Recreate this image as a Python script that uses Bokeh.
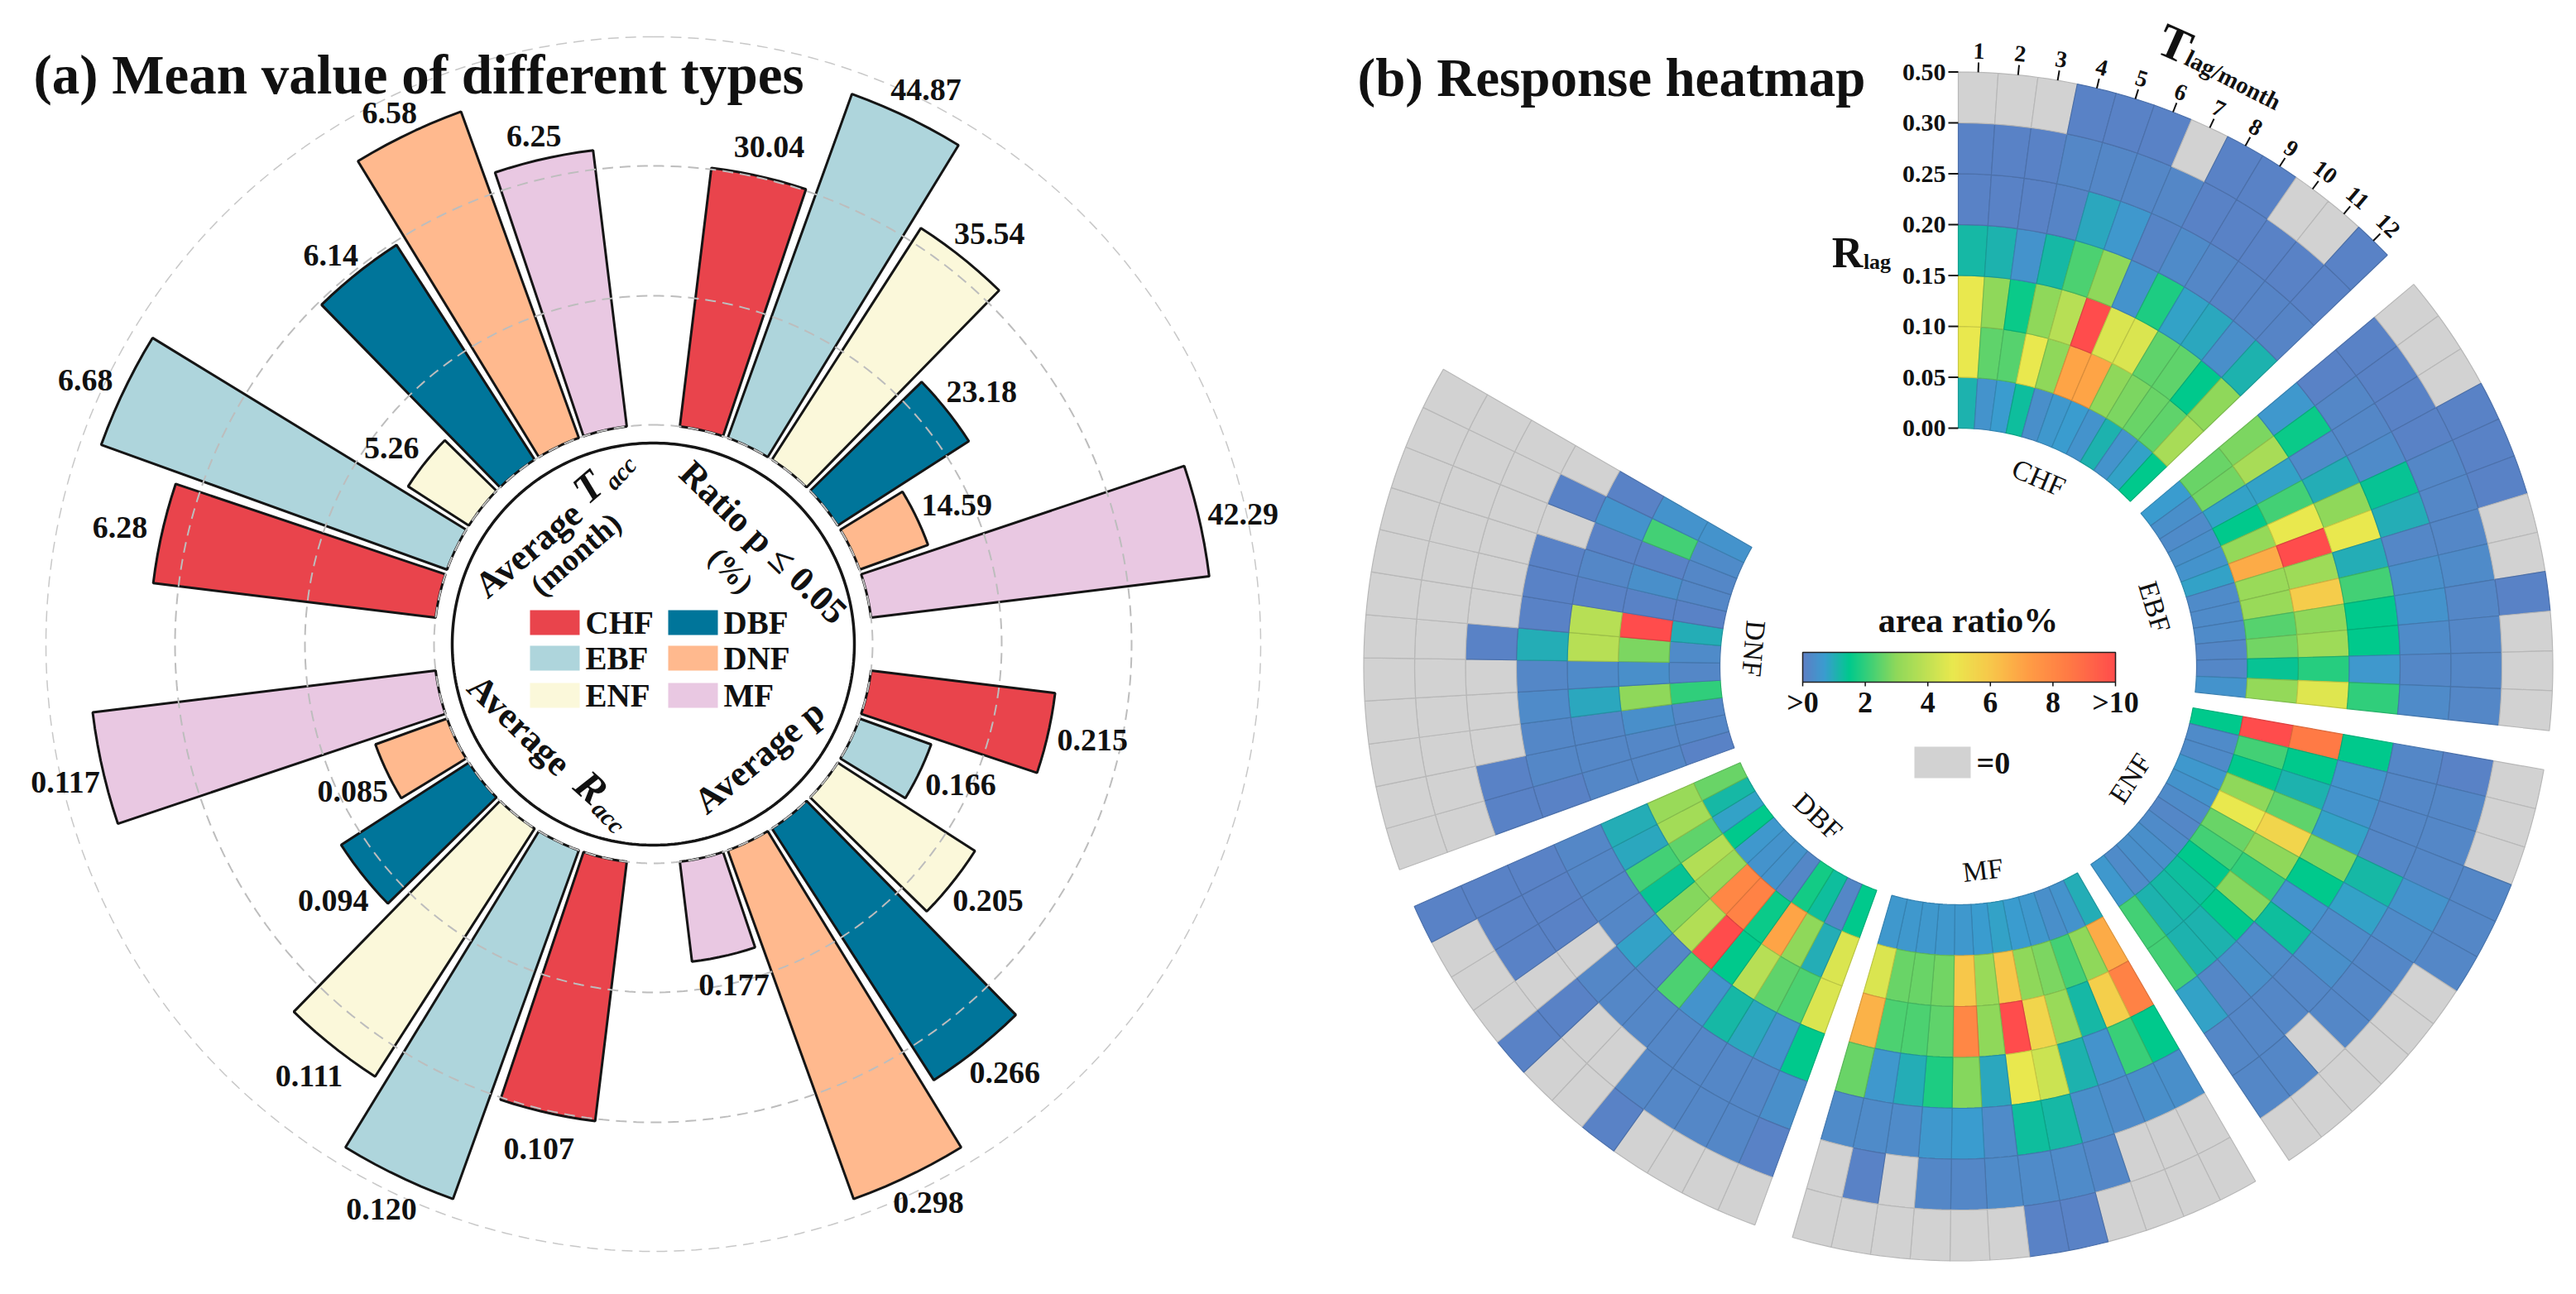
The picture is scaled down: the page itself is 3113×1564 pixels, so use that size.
import numpy as np
from bokeh.plotting import figure
from bokeh.models import Range1d, ColumnDataSource
from bokeh.core.properties import value
from bokeh.embed import file_html
from bokeh.resources import INLINE

# ---------- data: panel (a) ----------
types = ["CHF", "EBF", "ENF", "DBF", "DNF", "MF"]
type_colors = ["#e9444c", "#aed5dc", "#fbf8da", "#00759a", "#ffb98e", "#e9c8e2"]
ratio_labels = ["30.04", "44.87", "35.54", "23.18", "14.59", "42.29"]
ratio_heights = [34.0, 44.87, 35.54, 23.18, 14.59, 42.29]   # first bar is drawn longer than its label
avg_p = [0.215, 0.166, 0.205, 0.266, 0.298, 0.177]
avg_racc = [0.107, 0.120, 0.111, 0.094, 0.085, 0.117]
avg_tacc = [6.28, 6.68, 5.26, 6.14, 6.58, 6.25]

# ---------- data: panel (b), area ratio %; rows inner -> outer, columns Tlag 1..12; 0 = grey ----------
r_ticks = ["0.00", "0.05", "0.10", "0.15", "0.20", "0.25", "0.30", "0.50"]
months = ["1", "2", "3", "4", "5", "6", "7", "8", "9", "10", "11", "12"]
cb_ticks = [">0", "2", "4", "6", "8", ">10"]
chf = [
 [1.1,.5,.7,1.3,.4,.6,.7,.5,1.1,.5,.8,1.5],
 [4.8,2.5,2.4,4.8,3.0,7.0,7.0,3.0,2.8,2.6,2.5,3.5],
 [4.8,3.0,1.6,3.0,3.8,10,4.5,4.5,2.5,2.5,1.5,3.0],
 [1.2,1.1,.5,1.2,2.3,3.0,.5,1.8,.8,.9,.4,1.1],
 [.1,.1,.1,.15,.9,.6,.15,.3,.2,.15,.15,.15],
 [.1,.1,.1,.2,.2,.2,.2,.1,.1,.1,.1,.1],
 [0,0,0,.1,.1,.1,0,.1,.1,0,0,.1]]
ebf = [
 [.7,.4,.3,.4,.5,.8,.3,.3,.3,.2,.2,.5],
 [2.6,2.7,.8,1.5,3.1,6.8,3.2,3.2,2.4,2.7,1.4,3.1],
 [2.8,3.5,.8,2.2,4.8,10,3.3,5.8,3,3.3,1.9,4.6],
 [.6,1.6,.3,1.0,3,4.8,1,2.2,1.5,1.5,.6,2],
 [.1,.2,.2,.3,1.4,1.0,.2,.4,.5,.3,.2,.3],
 [.1,.1,.1,.1,.2,.2,.2,.3,.2,.2,.2,.2],
 [0,0,0,.1,.1,.1,0,0,.1,0,0,0]]
enf = [
 [1.5,.3,.3,.6,.5,.3,.2,.3,.4,.4,.3,.6],
 [10,2.2,1.5,3,4.8,2.6,2.2,1.5,1.3,1.2,1.1,2.2],
 [8.5,1.5,1.1,2.5,5.5,3,2.0,2.9,1.5,1.1,1.1,2.2],
 [1.5,.5,.5,.8,2.8,1.5,.5,1.3,.3,.4,.2,.8],
 [.2,.2,.2,.2,1.2,.8,.3,.4,.2,.2,.2,.2],
 [.1,.2,.2,.2,.5,.3,.2,.2,.2,0,.2,.2],
 [0,0,0,.2,.2,.2,0,0,0,0,0,0]]
mf = [
 [1.0,.5,.4,.6,.7,.8,.7,.6,.6,.6,.6,.6],
 [6.8,3,2.2,2.8,3,6,3.2,6,2.7,2.6,2.6,4.5],
 [8.2,5.7,1.2,3.2,5.5,10,3,8,2.5,2.3,2.3,6.6],
 [1.5,2.1,.5,1.1,4.2,4.8,.9,2.9,1.8,1.0,.6,2.6],
 [.4,.4,.3,.4,1.2,1.3,.3,.7,.6,.3,.3,.3],
 [0,0,0,.2,.3,.3,.3,.2,.2,0,.1,0],
 [0,0,0,0,.1,.1,0,0,0,0,0,0]]
dbf = [
 [1.5,.2,1.3,1.7,.2,.5,.5,.6,1.5,.8,1.2,2.6],
 [4.5,1.0,3,7,1.6,8.2,8,3.2,3.7,2.5,3.4,3.2],
 [4.5,2.3,2.5,3.8,1.5,10,3.7,2.9,1.4,2.2,.9,1.0],
 [1.5,.5,.9,1.2,.5,2.3,.2,.8,.2,.2,.2,.2],
 [.4,.2,.2,.2,.2,.2,.2,.2,0,.1,.1,.1],
 [.1,.2,.2,.2,.2,0,0,.1,0,.1,.1,.1],
 [0,0,0,0,.1,0,0,.1,0,0,0,.1]]
dnf = [
 [.1,.2,.2,2.0,.2,.3,1.0,.1,.2,.2,.3,.5],
 [.2,.2,.4,3,.4,2.8,10,.1,.4,.1,2.2,.5],
 [.2,.2,.2,.9,.3,3.8,3.8,.1,.2,.1,.5,.1],
 [.1,.2,.2,.3,.2,1.0,.1,.1,.1,0,.1,0],
 [.1,.1,0,0,0,.1,0,0,0,0,0,0],
 [0,0,0,0,0,0,0,0,0,0,0,0],
 [0,0,0,0,0,0,0,0,0,0,0,0]]

# ---------- figure: data coordinates are reference pixels ----------
W, H = 3097, 1548
p = figure(width=W, height=H, x_range=Range1d(0, W), y_range=Range1d(H, 0),
           output_backend="svg", toolbar_location=None, min_border=0)
p.axis.visible = False
p.grid.visible = False
p.outline_line_color = None

SERIF = "Liberation Serif"

def txt(x, y, s, size, style="bold", cw=0.0, align="center", base="middle", color="#111111", font=SERIF):
    p.text([x], [y], text=[s], text_font=value(font), text_font_size=value(f"{size}px"),
           text_font_style=style, text_align=align, text_baseline=base,
           angle=[-cw], angle_units="deg", text_color=color)

def pol(cx, cy, r, th):
    t = np.radians(th)
    return cx + r * np.sin(t), cy - r * np.cos(t)

def wedge(cx, cy, r0, r1, t0, t1, n=8):
    a = np.linspace(t0, t1, n)
    xo, yo = pol(cx, cy, r1, a)
    xi, yi = pol(cx, cy, r0, a[::-1])
    return list(np.r_[xo, xi]), list(np.r_[yo, yi])

# ---------- panel (a) ----------
CA = (789, 778)
R_IN = 265
STEP, HALF = 12.9, 5.8
# radial scale of each quadrant (pixel radius = base + slope * value)
quadrants = [
    (45, ratio_heights, ratio_labels, 182.4, 11.69, (54, 36, 0)),
    (135, avg_p, [f"{v:.3f}" for v in avg_p], -90.7, 2697.0, (55, 36, 0)),
    (225, avg_racc, [f"{v:.3f}" for v in avg_racc], -507.5, 10171.0, (46, 36, 8)),
    (315, avg_tacc, [f"{v:.2f}" for v in avg_tacc], -970.0, 251.4, (52, 28, 0)),
]
bx, by, bc = [], [], []
labels = []
for mid, vals, labs, base, slope, (ox, oy, dy0) in quadrants:
    for i, v in enumerate(vals):
        th = mid + STEP * (i - 2.5)
        r = base + slope * v
        xs, ys = wedge(*CA, R_IN, r, th - HALF, th + HALF)
        bx.append(xs); by.append(ys); bc.append(type_colors[i])
        tx, ty = pol(*CA, r, th)
        labels.append((tx + ox * np.sin(np.radians(th)), ty - oy * np.cos(np.radians(th)) + dy0, labs[i]))
p.patches(bx, by, fill_color=bc, line_color="#151515", line_width=3)

for r, w, c in [(265, 2, "#c2c2c2"), (421, 2, "#bdbdbd"), (578, 2, "#bdbdbd"), (734, 1.5, "#c8c8c8")]:
    a = np.linspace(0, 360, 361)
    x, y = pol(*CA, r, a)
    p.line(x, y, line_color=c, line_width=w, line_dash="13 8")

a = np.linspace(0, 360, 361)
x, y = pol(*CA, 243, a)
p.line(x, y, line_color="#151515", line_width=3.5)

for lx, ly, s in labels:
    txt(lx, ly, s, 38)

# legend
lg = [(640, 737), (640, 780), (640, 825), (807, 737), (807, 780), (807, 825)]
lg_order = ["CHF", "EBF", "ENF", "DBF", "DNF", "MF"]
for (lx, ly), name in zip(lg, lg_order):
    c = type_colors[types.index(name)]
    p.quad(left=[lx], right=[lx + 60], top=[ly], bottom=[ly + 30], fill_color=c, line_color=None)
    txt(lx + 67, ly + 15, name, 39, align="left")

# text inside the ring
txt(638, 664, "Average", 44, cw=-40)
txt(710, 588, "T", 50, style="bold italic", cw=-41)
txt(749, 571, "acc", 30, style="bold italic", cw=-47)
txt(695, 669, "(month)", 38, cw=-41)
txt(922, 655, "Ratio p ≤ 0.05", 44, cw=44)
txt(883, 689, "(%)", 36, cw=47)
txt(917, 914, "Average p", 44, cw=-39.5)
txt(627, 876, "Average", 44, cw=44)
txt(714, 951, "R", 50, style="bold italic", cw=42)
txt(735, 987, "acc", 30, style="bold italic", cw=46)

# titles
txt(40, 89, "(a) Mean value of different types", 67, align="left")
txt(1640, 93, "(b) Response heatmap", 65, align="left")

# ---------- panel (b) ----------
CB = (2366, 805)
R0, DR = 288, 61.5
stops_v = [0, .7, 1.5, 3, 4.8, 6, 7.2, 8.5, 10]
stops_c = np.array([[0x5e,0x7e,0xc4],[0x3a,0x9c,0xcf],[0x00,0xc9,0x8c],[0x8f,0xd8,0x5a],
                    [0xe9,0xe8,0x4e],[0xf7,0xc7,0x4a],[0xff,0x9d,0x45],[0xff,0x7a,0x45],[0xff,0x4c,0x4c]], float)

def cmap(v):
    return tuple(float(np.interp(v, stops_v, stops_c[:, k])) for k in range(3))

def hx(c, f=1.0):
    return "#%02x%02x%02x" % tuple(int(round(min(255, x * f))) for x in c)

GREY = (0xd2, 0xd2, 0xd2)
sectors = [("CHF", chf, 0, 46.2, 0.0), ("EBF", ebf, 50, 46.2, 0.0), ("ENF", enf, 100, 46.2, 0.0),
           ("MF", mf, 150, 46.2, 0.0), ("DBF", dbf, 200, 46.2, 0.0), ("DNF", dnf, 250, 50.0, 0.0)]
hx_, hy_, hf, hl = [], [], [], []
for name, grid, t0, span, _ in sectors:
    dt = span / 12
    for ri, row in enumerate(grid):
        for ci, v in enumerate(row):
            xs, ys = wedge(*CB, R0 + DR * ri, R0 + DR * (ri + 1), t0 + dt * ci, t0 + dt * (ci + 1), n=5)
            hx_.append(xs); hy_.append(ys)
            c = GREY if v == 0 else cmap(v)
            hf.append(hx(c))
            hl.append(hx(c, 0.86) if v else "#b8b8b8")
p.patches(hx_, hy_, fill_color=hf, line_color=hl, line_width=1.2)

# radial ticks
for i, s in enumerate(r_ticks):
    y = CB[1] - (R0 + DR * i)
    p.segment([2354], [y], [2366], [y], line_color="#111111", line_width=2)
    txt(2351, y, s, 30, align="right")

# month ticks
for i, s in enumerate(months):
    th = (i + 0.5) * 46.2 / 12
    x0, y0 = pol(*CB, R0 + DR * 7, th)
    x1, y1 = pol(*CB, R0 + DR * 7 + 12, th)
    p.segment([x0], [y0], [x1], [y1], line_color="#111111", line_width=2)
    lx, ly = pol(*CB, 744, th)
    txt(lx, ly, s, 28, style="bold", cw=th)

txt(2628, 52, "T", 58, cw=24)
txt(2698, 96, "lag/month", 29, cw=27)
txt(2232, 305, "R", 52)
txt(2268, 316, "lag", 26)

# sector names
for name, grid, t0, span, _ in sectors:
    mid = t0 + span / 2
    lx, ly = pol(*CB, 248, mid)
    txt(lx, ly, name, 34, style="normal", cw=(mid if mid < 90 else mid - 180))

# colour bar
CB_L, CB_R, CB_T, CB_B = 2178, 2556, 788, 824
edges = np.linspace(0, 10, 190)
lefts = CB_L + (CB_R - CB_L) * edges[:-1] / 10
rights = CB_L + (CB_R - CB_L) * edges[1:] / 10 + 0.6
colors = [hx(cmap((a + b) / 2)) for a, b in zip(edges[:-1], edges[1:])]
p.quad(left=lefts, right=rights, top=CB_T, bottom=CB_B, fill_color=colors, line_color=None)
p.quad(left=[CB_L], right=[CB_R], top=[CB_T], bottom=[CB_B], fill_color=None, line_color="#222222", line_width=1.5)
for k, s in enumerate(cb_ticks):
    x = CB_L + (CB_R - CB_L) * k / 5
    p.segment([x], [CB_B], [x], [CB_B + 5], line_color="#111111", line_width=1.5)
    txt(x, 848, s, 36)
txt(2378, 749, "area ratio%", 42)
p.quad(left=[2313], right=[2381], top=[902], bottom=[940], fill_color=hx(GREY), line_color=None)
txt(2388, 921, "=0", 38, align="left")

open("out.html", "w").write(file_html(p, INLINE))
